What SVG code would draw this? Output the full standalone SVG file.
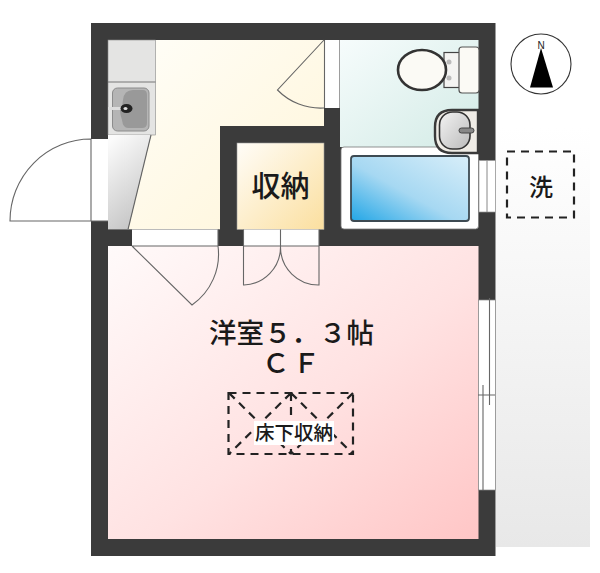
<svg xmlns="http://www.w3.org/2000/svg" width="600" height="573" viewBox="0 0 600 573">
<style>
.t{font-family:"Noto Sans CJK JP","Noto Sans CJK SC",sans-serif;fill:#1a1a1a;text-anchor:middle;font-weight:500}
.l{fill:none;stroke:#666;stroke-width:1.1}
.d{fill:none;stroke:#222;stroke-width:2.2;stroke-dasharray:8 6}
.k{stroke:#3a3a3a;stroke-width:2.4}
</style>
<defs>
<linearGradient id="gy" x1="0" y1="0" x2="1" y2="1"><stop offset="0" stop-color="#fffef8"/><stop offset="1" stop-color="#fff5d8"/></linearGradient>
<linearGradient id="gs" x1="0" y1="0" x2="1" y2="1"><stop offset="0" stop-color="#fffdf8"/><stop offset="1" stop-color="#fbdf9f"/></linearGradient>
<linearGradient id="gb" x1="0" y1="0" x2="1" y2="1"><stop offset="0" stop-color="#f6fcfc"/><stop offset="1" stop-color="#d3ebe6"/></linearGradient>
<linearGradient id="gt" x1="0" y1="1" x2="1" y2="0"><stop offset="0" stop-color="#22a6e6"/><stop offset="0.45" stop-color="#a6d8f2"/><stop offset="1" stop-color="#d8eef9"/></linearGradient>
<linearGradient id="gr" x1="0" y1="0" x2="1" y2="1"><stop offset="0" stop-color="#fffafa"/><stop offset="0.55" stop-color="#ffe2e2"/><stop offset="1" stop-color="#ffc6c6"/></linearGradient>
<linearGradient id="gg" x1="0" y1="0" x2="0" y2="1"><stop offset="0" stop-color="#ffffff"/><stop offset="1" stop-color="#e8e8e8"/></linearGradient>
<linearGradient id="ge" x1="0.2" y1="0" x2="0.6" y2="1"><stop offset="0" stop-color="#fbfbfb"/><stop offset="1" stop-color="#c4c4c4"/></linearGradient>
<linearGradient id="gw" x1="0" y1="0" x2="1" y2="1"><stop offset="0" stop-color="#f3f3f3"/><stop offset="1" stop-color="#bbb"/></linearGradient>
</defs>
<rect id="outside" x="496" y="128" width="94" height="419" fill="url(#gg)"/>
<g id="walls"><rect x="91" y="23" width="404.500" height="533" fill="#3b3b3b"/></g>
<g id="kitchen">
<polygon points="155,40 324,40 324,126 220,126 220,229.500 128,229.500 151,135 155,135" fill="url(#gy)"/>
<rect x="108" y="40" width="47.500" height="95" fill="#e4e4e3" stroke="#888" stroke-width="0.6"/>
<line x1="108" y1="82" x2="155.500" y2="82" stroke="#777"/>
<polygon points="108,135 151,135 128,229.500 108,229.500" fill="url(#ge)"/>
<line x1="151" y1="135" x2="128" y2="229.500" stroke="#666" stroke-width="1.100"/>
<rect x="112.500" y="88" width="36.500" height="43" rx="5" fill="#b5b5b5" stroke="#8c8c8c" stroke-width="1"/>
<path d="M123,100q1,-10 10,-10h10q4,0 4,5v28q0,5 -5,5h-14q-5,0 -6,-8q-2,-6 -2,-10q3,-5 3,-10z" fill="#999"/>
<line x1="108" y1="108.500" x2="125" y2="108.500" stroke="#ddd" stroke-width="3"/>
<ellipse cx="126.500" cy="108.500" rx="6" ry="4.500" fill="#222"/>
<ellipse cx="125.500" cy="108.500" rx="2" ry="1.500" fill="#ddd"/>
<line x1="108" y1="229.500" x2="220" y2="229.500" stroke="#777"/>
</g>
<g id="entrance-door">
<rect x="91" y="139" width="17" height="82" fill="#fff"/>
<path class="l" d="M91,139A81,82 0 0 0 10,221H108M91,139V221"/>
</g>
<g id="hall-door">
<rect x="324" y="40" width="15.500" height="68" fill="#fff"/>
<path class="l" d="M324,40L277.500,90A60,60 0 0 0 324,108M324.500,40V108"/>
</g>
<g id="storage">
<rect x="237" y="143" width="87" height="86.500" fill="url(#gs)" stroke="#999" stroke-width="0.600"/>
<text class="t" x="280.500" y="197" font-size="29">収納</text>
</g>
<g id="bathroom">
<rect x="340" y="40" width="138.500" height="107" fill="url(#gb)"/>
<rect x="341" y="147" width="137.500" height="82" rx="3" fill="#fff" stroke="#777" stroke-width="0.800"/>
<rect x="351" y="156" width="118" height="65" rx="3" fill="url(#gt)" stroke="#3d4a52" stroke-width="1.800"/>
</g>
<g id="toilet">
<rect x="444" y="52.500" width="16" height="35" fill="#f4f4f2" stroke="#444" stroke-width="1.200"/>
<circle cx="449" cy="62" r="2.500" fill="#bbb"/><circle cx="449" cy="78" r="2.500" fill="#bbb"/>
<ellipse cx="422" cy="70" rx="24" ry="20" fill="#fbfaf5" stroke="#333" stroke-width="2.600"/>
<rect x="459" y="47" width="20" height="46" rx="3" fill="#fbfaf5" stroke="#555" stroke-width="1.200"/>
</g>
<g id="washbasin">
<path d="M478,110H452q-17,0 -17,17v9q0,17 17,17h26z" fill="#efece6" class="k"/>
<rect x="439.500" y="112" width="30.500" height="37" rx="13" fill="url(#gw)" stroke="#333" stroke-width="1.600"/>
<rect x="459" y="128" width="15" height="5" rx="2.500" fill="#888" stroke="#444" stroke-width="1"/>
</g>
<g id="small-window">
<rect x="479" y="160.500" width="16.500" height="51.500" fill="#fff" stroke="#999" stroke-width="0.700"/>
<line x1="487" y1="160.500" x2="487" y2="212" stroke="#888"/>
</g>
<g id="room">
<rect x="108" y="246" width="370.500" height="293" fill="url(#gr)"/>
<text class="t" x="291.500" y="342.500" font-size="27.500">洋室５．３帖</text>
<text class="t" x="292.500" y="373" font-size="27.500" letter-spacing="3">ＣＦ</text>
</g>
<g id="room-door">
<rect x="132" y="229.500" width="86" height="16.500" fill="#fff"/>
<path class="l" d="M132,246H218V229.500M132,246L192,305A62,62 0 0 0 218,246"/>
</g>
<g id="storage-door">
<rect x="243.500" y="229.500" width="75.500" height="16.500" fill="#fff"/>
<path class="l" d="M243.500,229.500V285H244A38,38 0 0 0 280.500,247V229.500M319,229.500V285A38,38 0 0 1 280.500,247M243.500,246H319"/>
</g>
<g id="window">
<rect x="478.500" y="300" width="17" height="190" fill="#fff" stroke="#888" stroke-width="0.700"/>
<path d="M489.500,298V405M483,385V490M478,395H495" stroke="#666" stroke-width="1.100" fill="none"/>
</g>
<g id="compass">
<circle cx="541" cy="64" r="30" fill="#fff" stroke="#333" stroke-width="1.100"/>
<polygon points="541,48 530,87.500 553,87.500" fill="#000"/>
<text x="541" y="49" font-size="10" font-family="Liberation Sans,sans-serif" text-anchor="middle" fill="#222">N</text>
</g>
<g id="laundry">
<rect x="507" y="151.500" width="67" height="66" class="d"/>
<text class="t" x="541" y="196" font-size="24">洗</text>
</g>
<g id="connectors">
<rect x="228.500" y="393" width="124.500" height="61" class="d"/>
<path class="d" d="M229,393L291,454M353,393L291,454M291,393L229,454M291,393L353,454M291,393V454"/>
</g>
<g id="underfloor">
<rect x="254" y="421" width="80" height="24" fill="#fff"/>
<text class="t" x="294" y="440" font-size="19.500">床下収納</text>
</g>
</svg>
